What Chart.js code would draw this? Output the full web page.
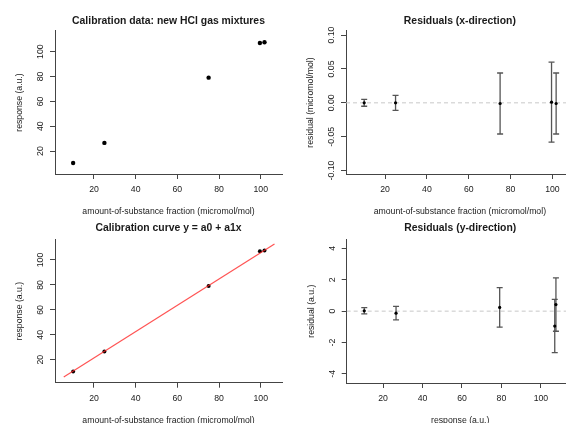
<!DOCTYPE html>
<html>
<head>
<meta charset="utf-8">
<title>HCl calibration</title>
<script src="https://cdn.jsdelivr.net/npm/chart.js@4.4.0/dist/chart.umd.min.js"></script>
<style>
  html, body { margin: 0; padding: 0; background: #fff; width: 566px; height: 423px; overflow: hidden; }
  canvas { position: absolute; }
</style>
</head>
<body>
<canvas id="calData" width="300" height="232" style="left:0;top:0"></canvas>
<canvas id="residX" width="300" height="232" style="left:283px;top:0"></canvas>
<canvas id="calCurve" width="300" height="232" style="left:0;top:211px"></canvas>
<canvas id="residY" width="300" height="232" style="left:283px;top:211px"></canvas>
<script>
// values
const conc = [10, 25, 75, 99.6, 101.8];          // amount-of-substance fraction (micromol/mol)
const resp = [10.5, 26.6, 79.1, 107.0, 107.6];   // response (a.u.)
const resX = [0.000, 0.000, -0.001, 0.001, -0.001];
const errX = [0.005, 0.011, 0.045, 0.059, 0.045];
const resY = [0.02, -0.13, 0.24, -0.95, 0.42];
const errY = [0.20, 0.43, 1.26, 1.70, 1.70];
const fitX = [5.5, 106.6];   // ends of the drawn calibration line
const fitY = [6.2, 112.8];

const concTicks = [20, 40, 60, 80, 100];
const respTicks = [20, 40, 60, 80, 100];
const resXTicks = [-0.10, -0.05, 0.00, 0.05, 0.10];
const resYTicks = [-4, -2, 0, 2, 4];

const concLim = [1.3, 110.2];
const respLim = [1.6, 116.6];
const resXLim = [-0.105, 0.106];
const resYLim = [-4.58, 4.58];

const FONT = "'Liberation Sans', Arial, Helvetica, sans-serif";
const INK = '#1a1a1a';
const AXIS = '#444';
const BAR = '#555';
const FS = 8.7, TFS = 10.4;
const LH = FS * 1.2, TLH = TFS * 1.2;

Chart.defaults.font.family = FONT;
Chart.defaults.color = INK;

function widest(labels) {
  const ctx = document.createElement('canvas').getContext('2d');
  ctx.font = FS + 'px ' + FONT;
  return Math.max(...labels.map(t => ctx.measureText(t).width));
}

// area = chart area in canvas coords: l, t, r, b ; tc = title centre y
function panel(id, area, tc, title, xAx, yAx, datasets) {
  const cv = document.getElementById(id);
  const W = cv.width, H = cv.height;
  const yLabels = yAx.ticks.map(yAx.fmt);
  const yPad = 9.5 - widest(yLabels) / 2;
  new Chart(cv, {
    type: 'scatter',
    data: { datasets },
    options: {
      responsive: false,
      animation: false,
      devicePixelRatio: 1,
      events: [],
      layout: { padding: { left: 0, top: 0, right: W - area.r, bottom: 0 } },
      plugins: {
        legend: { display: false },
        tooltip: { enabled: false },
        title: {
          display: true, text: title, fullSize: false, color: INK,
          font: { size: TFS, weight: 'bold' },
          padding: { top: tc - TLH / 2, bottom: area.t - (tc - TLH / 2) - TLH }
        }
      },
      scales: {
        x: {
          type: 'linear', min: xAx.lim[0], max: xAx.lim[1],
          afterBuildTicks: s => { s.ticks = xAx.ticks.map(v => ({ value: v })); },
          afterFit: s => { s.height = H - area.b; },
          border: { display: true, color: AXIS, width: 1 },
          grid: { display: true, drawOnChartArea: false, drawTicks: true, tickLength: 5, tickColor: AXIS },
          ticks: { autoSkip: false, maxRotation: 0, font: { size: FS }, color: INK, padding: 16 - 5 - LH / 2,
                   callback: v => xAx.fmt(v) },
          title: { display: true, text: xAx.title, color: INK, font: { size: FS },
                   padding: { top: 0, bottom: H - area.b - 37.5 - LH / 2 } }
        },
        y: {
          type: 'linear', min: yAx.lim[0], max: yAx.lim[1],
          afterBuildTicks: s => { s.ticks = yAx.ticks.map(v => ({ value: v })); },
          afterFit: s => { s.width = area.l; },
          border: { display: true, color: AXIS, width: 1 },
          grid: { display: true, drawOnChartArea: false, drawTicks: true, tickLength: 5, tickColor: AXIS },
          ticks: { autoSkip: false, minRotation: 90, maxRotation: 90, crossAlign: 'center',
                   font: { size: FS }, color: INK, padding: yPad, callback: v => yAx.fmt(v) },
          title: { display: true, text: yAx.title, color: INK, font: { size: FS },
                   padding: { top: area.l - 35.5 - LH / 2, bottom: 0 } }
        }
      }
    }
  });
}

const int = v => String(v);
const dec2 = v => v.toFixed(2);

function dots(xs, ys, r) {
  return { data: xs.map((x, i) => ({ x, y: ys[i] })), pointRadius: r, pointBackgroundColor: '#000',
           pointBorderWidth: 0, showLine: false };
}
function zeroLine(lim) {
  return { data: [{ x: lim[0], y: 0 }, { x: lim[1], y: 0 }], showLine: true, borderColor: '#c8c8c8',
           borderWidth: 1, borderDash: [4, 3], pointRadius: 0, order: 3 };
}
function errorBars(xs, rs, es) {
  return xs.map((x, i) => ({
    data: [{ x, y: rs[i] - es[i] }, { x, y: rs[i] + es[i] }], showLine: true,
    borderColor: BAR, borderWidth: 1.3, pointStyle: 'line', pointRadius: 3,
    pointBorderColor: BAR, pointBorderWidth: 1.3, order: 2
  }));
}

const concAxis = { lim: concLim, ticks: concTicks, fmt: int, title: 'amount-of-substance fraction (micromol/mol)' };

panel('calData', { l: 55, t: 31, r: 282, b: 174 }, 20.7, 'Calibration data: new HCl gas mixtures',
  concAxis,
  { lim: respLim, ticks: respTicks, fmt: int, title: 'response (a.u.)' },
  [dots(conc, resp, 2.2)]);

panel('residX', { l: 63, t: 31, r: 290.7, b: 174 }, 20.7, 'Residuals (x-direction)',
  concAxis,
  { lim: resXLim, ticks: resXTicks, fmt: dec2, title: 'residual (micromol/mol)' },
  [Object.assign(dots(conc, resX, 1.6), { order: 1 }), ...errorBars(conc, resX, errX), zeroLine(concLim)]);

panel('calCurve', { l: 55, t: 28.3, r: 282, b: 171.7 }, 17.3, 'Calibration curve y = a0 + a1x',
  concAxis,
  { lim: respLim, ticks: respTicks, fmt: int, title: 'response (a.u.)' },
  [{ data: fitX.map((x, i) => ({ x, y: fitY[i] })), showLine: true, borderColor: 'rgba(255,40,40,0.8)',
     borderWidth: 1.2, pointRadius: 0 },
   dots(conc, resp, 2)]);

panel('residY', { l: 63.7, t: 28.3, r: 290.7, b: 172 }, 17.3, 'Residuals (y-direction)',
  { lim: respLim, ticks: respTicks, fmt: int, title: 'response (a.u.)' },
  { lim: resYLim, ticks: resYTicks, fmt: int, title: 'residual (a.u.)' },
  [Object.assign(dots(resp, resY, 1.6), { order: 1 }), ...errorBars(resp, resY, errY), zeroLine(respLim)]);
</script>
</body>
</html>
